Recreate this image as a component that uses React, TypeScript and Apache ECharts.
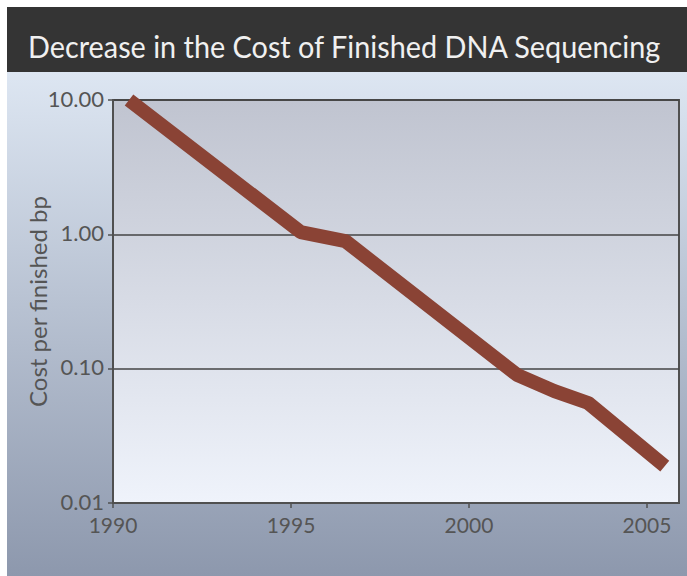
import React, { useEffect, useRef } from "react";
import * as echarts from "echarts";

const titleText = "Decrease in the Cost of Finished DNA Sequencing";
const yAxisName = "Cost per finished bp";
const years = [1990.45, 1995.27, 1996.53, 2001.35, 2002.4, 2003.35, 2005.5];
const costs = [10, 1.04, 0.89, 0.09, 0.068, 0.0555, 0.0188];
const xTicks = [1990, 1995, 2000, 2005];

export default function App() {
  const ref = useRef<HTMLDivElement>(null);
  useEffect(() => {
    if (!ref.current) return;
    document.body.style.margin = "0";
    const chart = echarts.init(ref.current, null, { renderer: "svg" });

    const titleFont = "31px Lato";
    let titleScale = 1;
    try {
      const c = document.createElement("canvas").getContext("2d");
      if (c) {
        c.font = titleFont;
        const w = c.measureText(titleText).width;
        if (w > 0) titleScale = 634 / w;
      }
    } catch (e) {}

    chart.setOption({
      animation: false,
      backgroundColor: "#ffffff",
      graphic: [
        {
          type: "rect",
          z: -10,
          silent: true,
          shape: { x: 7, y: 7, width: 680, height: 65 },
          style: { fill: "#343434" },
        },
        {
          type: "rect",
          z: -10,
          silent: true,
          shape: { x: 7, y: 72, width: 680, height: 504 },
          style: {
            fill: new echarts.graphic.LinearGradient(0, 0, 0, 1, [
              { offset: 0, color: "#dde6f2" },
              { offset: 1, color: "#8d98ad" },
            ]),
          },
        },
        {
          type: "text",
          x: 28,
          y: 46,
          scaleX: titleScale,
          style: {
            text: titleText,
            font: titleFont,
            fill: "#f0f0f0",
            verticalAlign: "middle",
            align: "left",
          },
        },
      ],
      grid: {
        left: 113,
        top: 100,
        right: 8,
        bottom: 73,
        show: true,
        borderColor: "#505050",
        borderWidth: 2,
        backgroundColor: new echarts.graphic.LinearGradient(0, 0, 0, 1, [
          { offset: 0, color: "#c0c4d0" },
          { offset: 1, color: "#eff3fb" },
        ]),
      },
      xAxis: {
        type: "value",
        min: 1990,
        max: 2005.9,
        interval: 5,
        splitLine: { show: false },
        axisLine: { show: true, lineStyle: { color: "#505050", width: 2 } },
        axisTick: {
          show: true,
          length: 5,
          lineStyle: { color: "#505050", width: 1.5 },
          customValues: xTicks,
        },
        axisLabel: {
          customValues: xTicks,
          fontFamily: "Lato",
          fontSize: 21,
          color: "#555555",
          margin: 11,
          formatter: (v: number) => String(v),
        },
      },
      yAxis: {
        type: "log",
        logBase: 10,
        min: 0.01,
        max: 10,
        name: yAxisName,
        nameLocation: "middle",
        nameGap: 64,
        nameMoveOverlap: false,
        nameRotate: 90,
        nameTextStyle: { fontFamily: "Lato", fontSize: 24, color: "#555555" },
        axisLine: { show: true, lineStyle: { color: "#505050", width: 2 } },
        axisTick: { show: true, length: 5, lineStyle: { color: "#505050", width: 1.5 } },
        axisLabel: {
          fontFamily: "Lato",
          fontSize: 22,
          color: "#555555",
          margin: 9,
          verticalAlign: "bottom",
          lineHeight: 22,
          padding: [0, 0, -9, 0],
          formatter: (v: number) => v.toFixed(2),
        },
        splitLine: { show: true, lineStyle: { color: "#444444", width: 1.5 } },
      },
      series: [
        {
          type: "line",
          data: years.map((y, i) => [y, costs[i]]),
          showSymbol: false,
          clip: false,
          lineStyle: { color: "#8a4335", width: 14, cap: "butt", join: "round" },
        },
      ],
    });
    return () => chart.dispose();
  }, []);
  return (
    <div
      ref={ref}
      style={{ position: "absolute", left: 0, top: 0, width: 687, height: 576 }}
    />
  );
}
